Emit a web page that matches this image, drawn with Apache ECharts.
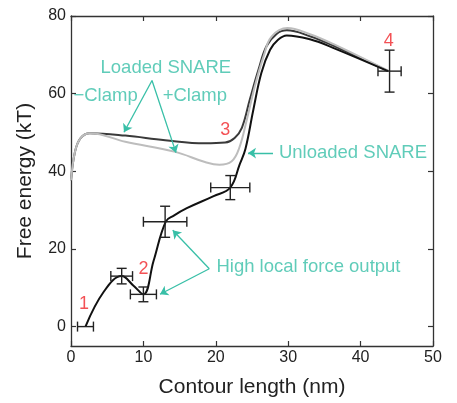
<!DOCTYPE html>
<html><head><meta charset="utf-8">
<script src="https://cdn.jsdelivr.net/npm/echarts@6/dist/echarts.min.js"></script>
<style>html,body{margin:0;padding:0;background:#fff}#c{width:457px;height:403px}</style>
</head><body><div id="c"></div>
<script>
// Unloaded SNARE (black)
const unloadedX = [2, 4.5, 7.0, 8.6, 10, 11.4, 13.1, 14.2, 16, 19.7, 22, 23.3, 24.1, 25.2, 26.3, 27.5, 28.6, 29.8, 33, 36.2, 43.8];
const unloadedY = [0, 8.9, 13, 10.6, 8.3, 16.9, 27.1, 28.6, 30.5, 33.6, 35.8, 41.8, 45.8, 56, 65.4, 71.3, 73.9, 75.0, 74.0, 71.8, 65.8];
// Loaded SNARE -Clamp (dark gray)
const minusClampX = [0, 0.55, 1.3, 2.6, 7.5, 13, 18.5, 21.3, 22.6, 23.6, 24.7, 25.9, 27.0, 28.4, 29.8, 33, 36.2, 43.8];
const minusClampY = [37.7, 45, 48.5, 49.8, 49.2, 48.0, 47.2, 47.4, 48.6, 51.2, 58.5, 66.2, 72.2, 75.4, 76.3, 74.8, 72.4, 65.8];
// Loaded SNARE +Clamp (light gray)
const plusClampX = [0, 0.55, 1.3, 2.6, 7.5, 14.4, 18.5, 20.5, 22.2, 23.2, 24.3, 25.4, 26.6, 27.7, 29.9, 33, 36.2, 43.8];
const plusClampY = [37.7, 45, 48.5, 49.8, 47.6, 45.0, 42.4, 41.7, 42.6, 45.8, 53.4, 62.0, 69.6, 74.7, 76.9, 75.3, 72.8, 65.9];
// Measured states with error bars
const stateX = [2, 7, 10, 13, 22, 44];
const stateY = [0, 13, 8.3, 27, 35.8, 65.8];
const stateXErr = [1.1, 1.5, 1.8, 3, 2.7, 1.6];
const stateYErr = [0, 2, 1.9, 4, 3.1, 5.4];
// State numbers
const stateNames = ['1', '2', '3', '4'];
const stateNamePos = [[1.8, 5.8], [10, 14.7], [21.3, 50.7], [43.9, 73.5]];
// Annotations
const annoTexts = ['Loaded SNARE', '\u2212Clamp', '+Clamp', 'Unloaded SNARE', 'High local force output'];
const annoPos = [[13.1, 66.7], [4.77, 59.4], [17.1, 59.4], [38.95, 44.7], [32.8, 15.4]];
const arrows = [
  [[11.19, 63.4], [7.32, 50.06]],
  [[11.19, 63.4], [14.5, 44.8]],
  [[27.9, 44.7], [24.45, 44.7]],
  [[19.1, 14.9], [14.05, 24.8]],
  [[19.1, 14.9], [12.29, 8.33]]
];
const xTicks = [0, 10, 20, 30, 40, 50];
const yTicks = [0, 20, 40, 60, 80];

const FONT = 'Liberation Sans, Arial, sans-serif';
const TEAL = '#38bfa7';
const AXC = '#333';
const zip = (a, b) => a.map((v, i) => [v, b[i]]);

const chart = echarts.init(document.getElementById('c'), null, {renderer: 'canvas'});
const axisCommon = {
  axisLine: {show: true, onZero: false, lineStyle: {color: AXC, width: 1.3}},
  axisTick: {show: true, inside: true, length: 5, lineStyle: {color: AXC, width: 1.2}},
  splitLine: {show: false}
};
chart.setOption({
  animation: false,
  backgroundColor: '#fff',
  textStyle: {fontFamily: FONT},
  grid: {left: 71, right: 24, top: 16, bottom: 55},
  xAxis: [
    Object.assign({type: 'value', min: 0, max: 50, position: 'bottom',
      name: 'Contour length (nm)', nameLocation: 'middle', nameGap: 31,
      nameTextStyle: {fontSize: 21, color: '#222', fontFamily: FONT},
      axisLabel: {customValues: xTicks, margin: 4, fontSize: 16, color: '#222', fontFamily: FONT}}, axisCommon,
      {axisTick: Object.assign({}, axisCommon.axisTick, {customValues: xTicks})}),
    Object.assign({type: 'value', min: 0, max: 50, position: 'top', axisLabel: {show: false}}, axisCommon,
      {axisTick: Object.assign({}, axisCommon.axisTick, {customValues: xTicks})})
  ],
  yAxis: [
    Object.assign({type: 'value', min: -5, max: 80, position: 'left',
      name: 'Free energy (kT)', nameLocation: 'middle', nameGap: 35,
      nameTextStyle: {fontSize: 21, color: '#222', fontFamily: FONT},
      axisLabel: {customValues: yTicks, margin: 5, fontSize: 16, color: '#222', fontFamily: FONT}}, axisCommon,
      {axisTick: Object.assign({}, axisCommon.axisTick, {customValues: yTicks})}),
    Object.assign({type: 'value', min: -5, max: 80, position: 'right', axisLabel: {show: false}}, axisCommon,
      {axisTick: Object.assign({}, axisCommon.axisTick, {customValues: yTicks})})
  ],
  series: [
    {type: 'line', name: '-Clamp', data: zip(minusClampX, minusClampY), showSymbol: false, smooth: 0.4,
      lineStyle: {color: '#3a3a3a', width: 2}, z: 2},
    {type: 'line', name: '+Clamp', data: zip(plusClampX, plusClampY), showSymbol: false, smooth: 0.4,
      lineStyle: {color: '#bdbdbd', width: 2}, z: 3},
    {type: 'line', name: 'Unloaded', data: zip(unloadedX, unloadedY), showSymbol: false, smooth: 0.4,
      lineStyle: {color: '#111', width: 2}, z: 4},
    {type: 'custom', name: 'states', z: 5,
      data: stateX.map((x, i) => [x, stateY[i], stateXErr[i], stateYErr[i]]),
      renderItem: function (params, api) {
        const x = api.value(0), y = api.value(1), ex = api.value(2), ey = api.value(3);
        const l = api.coord([x - ex, y]), r = api.coord([x + ex, y]);
        const cap = 5;
        const shapes = [
          {x1: l[0], y1: l[1], x2: r[0], y2: r[1]},
          {x1: l[0], y1: l[1] - cap, x2: l[0], y2: l[1] + cap},
          {x1: r[0], y1: r[1] - cap, x2: r[0], y2: r[1] + cap}
        ];
        if (ey > 0) {
          const t = api.coord([x, y + ey]), b = api.coord([x, y - ey]);
          shapes.push({x1: t[0], y1: t[1], x2: b[0], y2: b[1]});
          shapes.push({x1: t[0] - cap, y1: t[1], x2: t[0] + cap, y2: t[1]});
          shapes.push({x1: b[0] - cap, y1: b[1], x2: b[0] + cap, y2: b[1]});
        }
        return {type: 'group', children: shapes.map(s => ({type: 'line', shape: s, style: {stroke: '#222', lineWidth: 1.4}}))};
      }
    },
    {type: 'lines', coordinateSystem: 'cartesian2d', z: 6,
      data: arrows.map(c => ({coords: c})),
      symbol: ['none', 'arrow'], symbolSize: [0, 8],
      lineStyle: {color: TEAL, width: 1.3, opacity: 1}},
    {type: 'scatter', z: 7, symbolSize: 0, silent: true,
      data: stateNamePos.map((p, i) => ({value: p, label: {formatter: stateNames[i]}})),
      label: {show: true, position: 'inside', color: '#f0262a', fontSize: 18, fontFamily: FONT}},
    {type: 'scatter', z: 7, symbolSize: 0, silent: true,
      data: annoPos.map((p, i) => ({value: p, label: {formatter: annoTexts[i]}})),
      label: {show: true, position: 'inside', color: TEAL, fontSize: 18.5, fontFamily: FONT}}
  ]
});
</script></body></html>
